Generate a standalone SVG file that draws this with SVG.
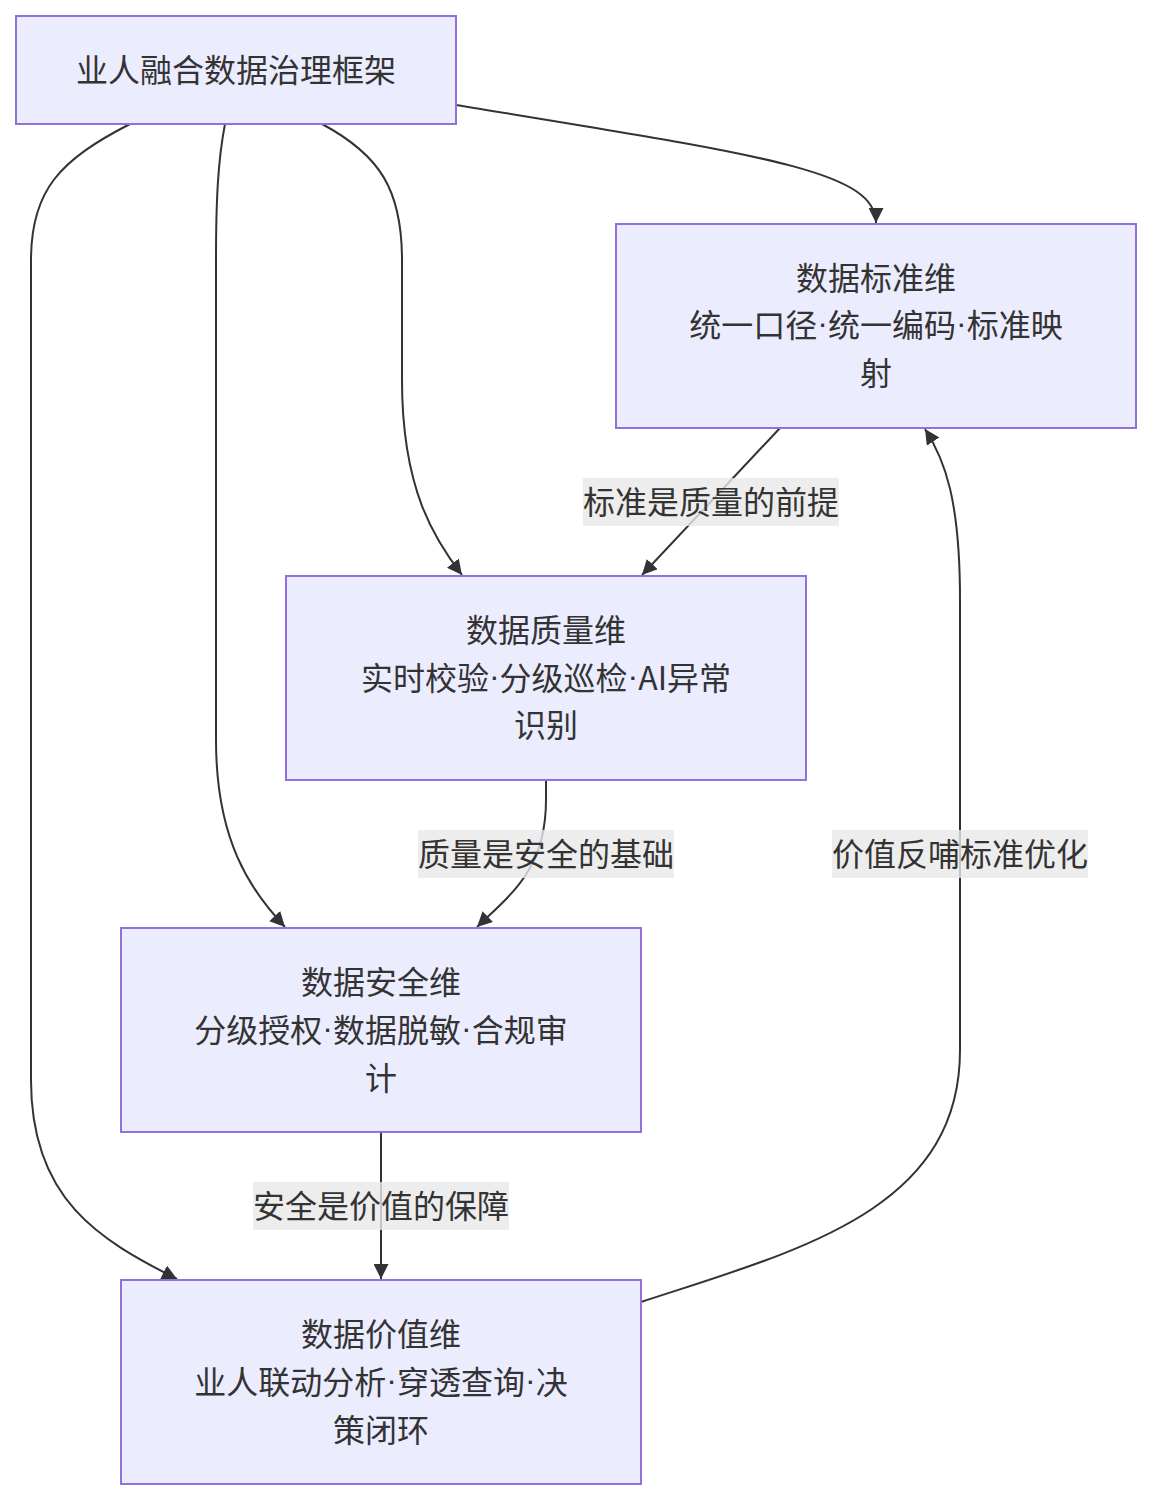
<svg xmlns="http://www.w3.org/2000/svg" width="1152" height="1500" viewBox="0 0 1152 1500">
<defs>
<marker id="arrow" viewBox="0 0 10 10" refX="10" refY="5" markerUnits="userSpaceOnUse" markerWidth="15" markerHeight="15" orient="auto">
<path d="M0,0 L10,5 L0,10 z" fill="#333333"/>
</marker>
<style>
.node rect{fill:#ECECFF;stroke:#9370DB;stroke-width:2}
text{font-family:"Noto Sans CJK SC","Noto Sans",sans-serif;font-size:32px;fill:#333333;text-anchor:middle;dominant-baseline:central}
.d{font-family:"Liberation Sans",sans-serif}
.edge{fill:none;stroke:#333333;stroke-width:2;marker-end:url(#arrow)}
.lbl rect{fill:#e8e8e8;fill-opacity:0.8}
</style>
</defs>
<rect width="1152" height="1500" fill="#ffffff"/>
<g id="connectors">
<path class="edge" d="M456,105 C760,155 876,170 876,223"/>
<path class="edge" d="M322,124 C380,155 402,190 402,260 L402,380 C402,490 435,540 462,575"/>
<path class="edge" d="M225,124 C218,160 216,200 216,260 L216,740 C216,840 250,890 285,927"/>
<path class="edge" d="M130,124 C60,160 31,190 31,260 L31,1080 C31,1200 100,1240 177,1279"/>
<path class="edge" d="M780,428 L642,575"/>
<path class="edge" d="M546,780 L546,800 C546,870 510,895 477,927"/>
<path class="edge" d="M381,1132 L381,1279"/>
<path class="edge" d="M641,1302 C800,1250 960,1210 960,1050 L960,600 C960,500 945,460 925,429"/>
<g class="lbl">
<rect x="583" y="478" width="256" height="48"/>
<text x="711" y="500">标准是质量的前提</text>
<rect x="418" y="830" width="256" height="48"/>
<text x="546" y="852">质量是安全的基础</text>
<rect x="832" y="830" width="256" height="48"/>
<text x="960" y="852">价值反哺标准优化</text>
<rect x="253" y="1182" width="256" height="48"/>
<text x="381" y="1204">安全是价值的保障</text>
</g>
</g>
<g id="nodeA" class="node">
<rect x="16" y="16" width="440" height="108"/>
<text x="236" y="68">业人融合数据治理框架</text>
</g>
<g id="nodeB" class="node">
<rect x="616" y="224" width="520" height="204"/>
<text x="876" y="276">数据标准维</text>
<text x="876" y="323">统一口径<tspan class="d">·</tspan>统一编码<tspan class="d">·</tspan>标准映</text>
<text x="876" y="371">射</text>
</g>
<g id="nodeC" class="node">
<rect x="286" y="576" width="520" height="204"/>
<text x="546" y="628">数据质量维</text>
<text x="546" y="676">实时校验<tspan class="d">·</tspan>分级巡检<tspan class="d">·</tspan>AI异常</text>
<text x="546" y="723">识别</text>
</g>
<g id="nodeD" class="node">
<rect x="121" y="928" width="520" height="204"/>
<text x="381" y="980">数据安全维</text>
<text x="381" y="1028">分级授权<tspan class="d">·</tspan>数据脱敏<tspan class="d">·</tspan>合规审</text>
<text x="381" y="1076">计</text>
</g>
<g id="nodeE" class="node">
<rect x="121" y="1280" width="520" height="204"/>
<text x="381" y="1332">数据价值维</text>
<text x="381" y="1380">业人联动分析<tspan class="d">·</tspan>穿透查询<tspan class="d">·</tspan>决</text>
<text x="381" y="1428">策闭环</text>
</g>
</svg>
